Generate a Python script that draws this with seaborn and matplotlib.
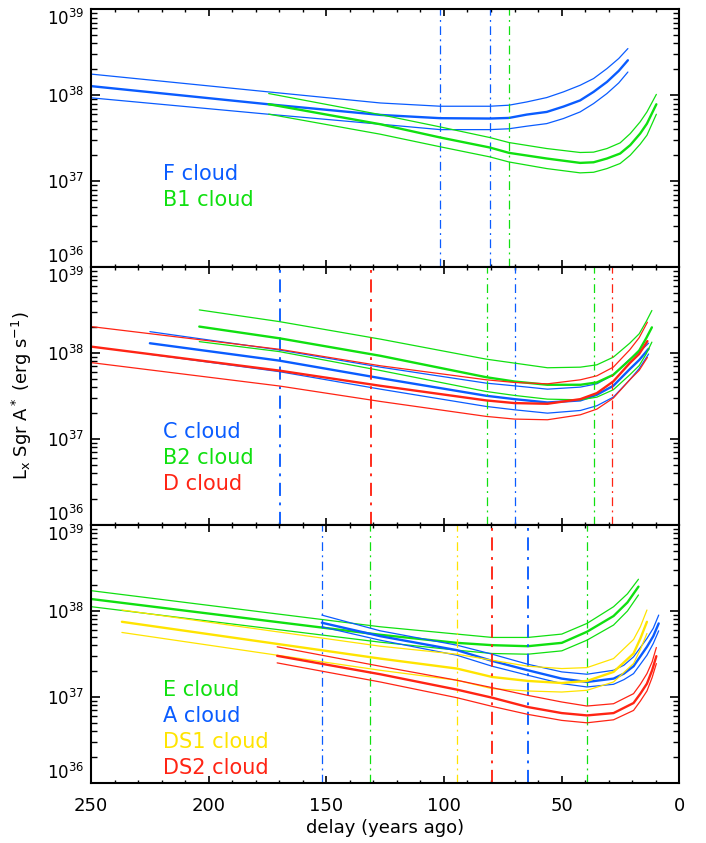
import numpy as np
import matplotlib
matplotlib.use("Agg")
import matplotlib.pyplot as plt
from matplotlib.ticker import MultipleLocator, LogLocator
import seaborn as sns

# ==============================
# DATA  (delay in years ago, log10 Lx in erg/s)
# ==============================

# --- top panel ---
f_delay = [250, 175, 127, 101.5, 80.5, 72.4, 64.8, 56.3, 49.2, 42.1, 36.4, 30.7, 25.7, 21.8]
f_hi = [38.246, 38.04, 37.91, 37.872, 37.872, 37.884, 37.922, 37.973, 38.039, 38.116, 38.194, 38.31, 38.427, 38.543]
f_mid = [38.106, 37.896, 37.771, 37.733, 37.729, 37.736, 37.775, 37.806, 37.868, 37.94, 38.039, 38.155, 38.283, 38.407]
f_lo = [37.97, 37.78, 37.663, 37.60, 37.60, 37.61, 37.64, 37.67, 37.729, 37.806, 37.903, 38.02, 38.143, 38.27]
f_marks = [101.5, 80.5]

b1_delay = [174.5, 127.1, 101.5, 80.5, 72.4, 56.3, 42.1, 36.4, 30.7, 25.1, 20.8, 16.6, 13.7, 9.7]
b1_hi = [38.02, 37.775, 37.631, 37.508, 37.45, 37.38, 37.334, 37.338, 37.38, 37.446, 37.554, 37.69, 37.806, 38.01]
b1_mid = [37.896, 37.663, 37.508, 37.392, 37.33, 37.264, 37.213, 37.22, 37.264, 37.322, 37.42, 37.554, 37.67, 37.895]
b1_lo = [37.78, 37.547, 37.40, 37.283, 37.224, 37.147, 37.097, 37.104, 37.147, 37.206, 37.302, 37.43, 37.535, 37.779]
b1_marks = [72.4]

# --- middle panel ---
c_delay = [225, 170, 127, 82, 70, 56, 42, 35, 28, 21, 17, 13]
c_hi = [38.25, 38.037, 37.837, 37.651, 37.62, 37.581, 37.605, 37.643, 37.748, 37.93, 38.01, 38.116]
c_mid = [38.115, 37.913, 37.709, 37.504, 37.465, 37.426, 37.45, 37.516, 37.62, 37.814, 37.92, 38.05]
c_lo = [37.987, 37.785, 37.581, 37.38, 37.341, 37.302, 37.333, 37.388, 37.488, 37.69, 37.82, 37.99]
c_marks = [169.7, 70.0]

b2_delay = [204, 170, 127, 82, 70, 56, 42, 35, 28, 21, 17, 14, 11.6]
b2_hi = [38.503, 38.367, 38.163, 37.93, 37.884, 37.83, 37.837, 37.864, 37.953, 38.116, 38.225, 38.368, 38.496]
b2_mid = [38.309, 38.173, 37.969, 37.72, 37.67, 37.632, 37.632, 37.659, 37.748, 37.922, 38.03, 38.174, 38.30]
b2_lo = [38.134, 38.018, 37.798, 37.554, 37.508, 37.465, 37.457, 37.488, 37.574, 37.748, 37.855, 37.992, 38.128]
b2_marks = [81.8, 36.0]

d_delay = [250, 170, 127, 82, 70, 56, 42, 35, 28, 21, 17, 13.5]
d_hi = [38.309, 38.045, 37.853, 37.69, 37.659, 37.643, 37.69, 37.736, 37.837, 38.039, 38.18, 38.36]
d_mid = [38.076, 37.797, 37.62, 37.45, 37.419, 37.411, 37.465, 37.535, 37.671, 37.884, 37.99, 38.14]
d_lo = [37.89, 37.618, 37.438, 37.264, 37.233, 37.225, 37.283, 37.349, 37.477, 37.69, 37.80, 37.95]
d_marks = [131.1, 28.5]

# --- bottom panel ---
e_delay = [250, 127.1, 94.5, 79.5, 64.3, 49.9, 39.2, 27.9, 22.0, 17.3]
e_hi = [38.237, 37.817, 37.732, 37.693, 37.693, 37.732, 37.856, 38.05, 38.2, 38.37]
e_mid = [38.14, 37.724, 37.63, 37.603, 37.591, 37.63, 37.759, 37.942, 38.1, 38.284]
e_lo = [38.051, 37.638, 37.545, 37.506, 37.498, 37.537, 37.661, 37.837, 38.0, 38.187]
e_marks = [131.5, 39.2]

a_delay = [151.9, 127.1, 94.5, 79.5, 64.3, 49.9, 39.2, 27.9, 23.5, 19.4, 13.7, 11.0, 8.7]
a_hi = [37.953, 37.77, 37.603, 37.498, 37.381, 37.292, 37.265, 37.311, 37.37, 37.467, 37.681, 37.80, 37.953]
a_mid = [37.864, 37.708, 37.545, 37.42, 37.311, 37.214, 37.175, 37.214, 37.272, 37.358, 37.584, 37.708, 37.856]
a_lo = [37.817, 37.661, 37.486, 37.358, 37.253, 37.156, 37.117, 37.148, 37.202, 37.272, 37.486, 37.623, 37.77]
a_marks = [151.8, 64.3]

ds1_delay = [236.9, 127.1, 94.5, 79.5, 64.3, 49.9, 39.2, 27.9, 19.4, 16.5, 13.7]
ds1_hi = [38.012, 37.591, 37.498, 37.428, 37.358, 37.331, 37.342, 37.447, 37.669, 37.817, 38.012]
ds1_mid = [37.875, 37.447, 37.331, 37.233, 37.187, 37.163, 37.187, 37.292, 37.506, 37.68, 37.875]
ds1_lo = [37.751, 37.311, 37.195, 37.097, 37.07, 37.058, 37.078, 37.175, 37.389, 37.553, 37.739]
ds1_marks = [94.5]

ds2_delay = [170.9, 127.1, 94.5, 79.5, 64.3, 49.9, 39.2, 27.9, 19.4, 16.5, 13.7, 11.5, 9.7]
ds2_hi = [37.584, 37.358, 37.195, 37.109, 37.019, 36.942, 36.895, 36.922, 37.039, 37.148, 37.272, 37.409, 37.576]
ds2_mid = [37.479, 37.265, 37.086, 36.992, 36.883, 36.813, 36.786, 36.813, 36.93, 37.039, 37.156, 37.311, 37.475]
ds2_lo = [37.397, 37.175, 36.992, 36.891, 36.798, 36.728, 36.70, 36.735, 36.844, 36.953, 37.07, 37.226, 37.389]
ds2_marks = [79.5]

# ==============================
# STYLE
# ==============================

BLUE = "#0a5cff"
GREEN = "#10e010"
RED = "#ff2414"
YELLOW = "#ffe400"

sns.set_theme(style="ticks")
plt.rcParams["font.family"] = ["DejaVu Sans"]
plt.rcParams["mathtext.fontset"] = "dejavusans"
plt.rcParams["mathtext.default"] = "regular"
plt.rcParams["text.color"] = "black"
plt.rcParams["axes.labelcolor"] = "black"
plt.rcParams["xtick.color"] = "black"
plt.rcParams["ytick.color"] = "black"
plt.rcParams["xtick.labelcolor"] = "black"
plt.rcParams["ytick.labelcolor"] = "black"

panels = [
    [("F cloud", BLUE, f_delay, f_hi, f_mid, f_lo, f_marks),
     ("B1 cloud", GREEN, b1_delay, b1_hi, b1_mid, b1_lo, b1_marks)],
    [("C cloud", BLUE, c_delay, c_hi, c_mid, c_lo, c_marks),
     ("B2 cloud", GREEN, b2_delay, b2_hi, b2_mid, b2_lo, b2_marks),
     ("D cloud", RED, d_delay, d_hi, d_mid, d_lo, d_marks)],
    [("E cloud", GREEN, e_delay, e_hi, e_mid, e_lo, e_marks),
     ("A cloud", BLUE, a_delay, a_hi, a_mid, a_lo, a_marks),
     ("DS1 cloud", YELLOW, ds1_delay, ds1_hi, ds1_mid, ds1_lo, ds1_marks),
     ("DS2 cloud", RED, ds2_delay, ds2_hi, ds2_mid, ds2_lo, ds2_marks)],
]

thick_marks = {169.7, 131.1, 79.5, 64.3}

fig, axes = plt.subplots(3, 1, figsize=(7.06, 8.43), dpi=100, sharex=True)
fig.subplots_adjust(left=0.129, right=0.962, bottom=0.0712, top=0.989, hspace=0)

for ax, clouds in zip(axes, panels):
    ax.set_yscale("log")

    for name, col, xs, hi, mid, lo, marks in clouds:
        for vals, lw in [(hi, 0.9), (mid, 1.7), (lo, 0.9)]:
            sns.lineplot(x=xs, y=10.0 ** np.array(vals), ax=ax, color=col,
                         lw=lw, sort=False, estimator=None)
        for m in marks:
            ax.axvline(m, color=col, lw=1.35 if m in thick_marks else 0.9,
                       dashes=(7, 3.5, 1.5, 3.5))

    for i, (name, col, *_rest) in enumerate(clouds):
        ax.text(0.122, 0.36 - 0.1 * i, name, color=col, fontsize=15,
                transform=ax.transAxes, va="center", ha="left")

    ax.set_ylim(1e36, 1e39)
    ax.set_xlim(250, 0)
    ax.xaxis.set_major_locator(MultipleLocator(50))
    ax.xaxis.set_minor_locator(MultipleLocator(10))
    ax.yaxis.set_major_locator(LogLocator(base=10))
    ax.yaxis.set_minor_locator(LogLocator(base=10, subs=np.arange(2, 10)))

    ax.tick_params(axis="both", which="both", direction="in", top=True, right=True,
                   color="black", labelcolor="black")
    ax.tick_params(axis="x", which="major", length=5, width=1.2, labelsize=13, pad=10)
    ax.tick_params(axis="x", which="minor", length=2.5, width=1.0)
    ax.tick_params(axis="y", which="major", length=6.5, width=1.2, labelsize=12, pad=5)
    ax.tick_params(axis="y", which="minor", length=4, width=1.0)

    for s in ax.spines.values():
        s.set_linewidth(1.5)
        s.set_color("black")

    ax.set_ylabel("")
    ax.set_xlabel("")

# end labels stay inside each panel, as in the original
fig.canvas.draw()
for ax in axes:
    for lab in ax.get_yticklabels():
        txt = lab.get_text()
        if "36" in txt:
            lab.set_va("bottom")
        elif "39" in txt:
            lab.set_va("top")

axes[1].set_ylabel(r"L$_x$ Sgr A$^*$ (erg s$^{-1}$)", fontsize=13, color="black")
axes[1].yaxis.set_label_coords(-0.117, 0.5)
axes[1].yaxis.label.set_va("center")
axes[2].set_xlabel("delay (years ago)", fontsize=13, color="black")
axes[2].xaxis.set_label_coords(0.5, -0.175)
axes[2].xaxis.label.set_va("center")

fig.savefig("out.png", dpi=100)
plt.close(fig)
